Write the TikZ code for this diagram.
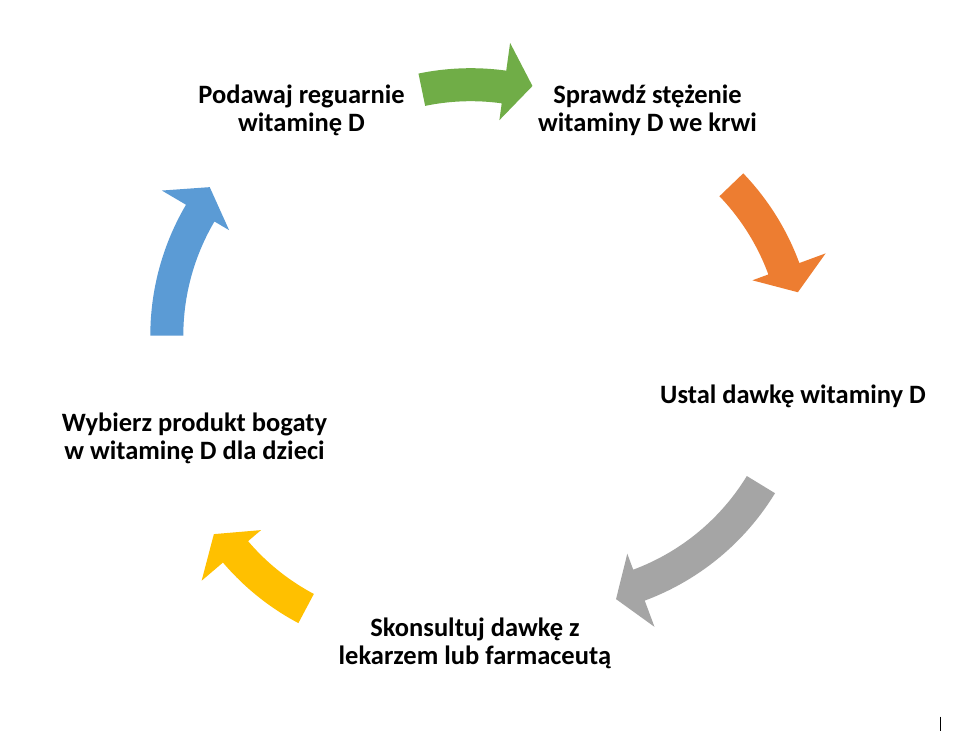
\documentclass[tikz,border=0pt]{standalone}
\usepackage{fontspec}
\setmainfont{Carlito}
\definecolor{cgreen}{HTML}{70AD47}
\definecolor{corange}{HTML}{ED7D31}
\definecolor{cgray}{HTML}{A5A5A5}
\definecolor{cyellow}{HTML}{FFC000}
\definecolor{cblue}{HTML}{5B9BD5}
% #1 colour, #2 cx, #3 cy, #4 tail angle, #5 head base angle, #6 tip angle
\newcommand\cycarrow[6]{%
  \fill[#1] plot[domain=#4:#5, samples=40] ({#2+258*cos(\x)},{#3-258*sin(\x)})
    -- ({#2+286*cos(#5)},{#3-286*sin(#5)})
    -- ({#2+248*cos(#6)},{#3-248*sin(#6)})
    -- ({#2+208*cos(#5)},{#3-208*sin(#5)})
    -- plot[domain=#5:#4, samples=40] ({#2+225*cos(\x)},{#3-225*sin(\x)})
    -- cycle;}
\tikzset{
  lbl/.style={align=center, inner sep=0pt, font=\bfseries\fontsize{26.5}{28}\selectfont}
}
\begin{document}
\begin{tikzpicture}[x=1pt, y=-1pt]
\useasboundingbox (0,0) rectangle (962,735);
\fill[white] (0,0) rectangle (962,735);
% arrows
\cycarrow{cgreen}{470.8}{326.2}{101.7}{82.1}{75.6}
\cycarrow{corange}{557.2}{352.1}{43.85}{20.19}{13.97}
\cycarrow{cgray}{554.8}{358.8}{-31.4}{-69.6}{-75.7}
\cycarrow{cyellow}{419.3}{395.2}{242.05}{220.44}{214.07}
\cycarrow{cblue}{408.3}{335.7}{180}{149.5}{143.2}
% labels
\node[lbl] (podawaj) at (301.5,110) {Podawaj reguarnie\\witaminę D};
\node[lbl] (sprawdz) at (647.5,110) {Sprawdź stężenie\\witaminy D we krwi};
\node[lbl, anchor=base] (ustal) at (793,403.3) {Ustal dawkę witaminy D};
\node[lbl] (skonsultuj) at (475,643.5) {Skonsultuj dawkę z\\lekarzem lub farmaceutą};
\node[lbl] (wybierz) at (194.5,438) {Wybierz produkt bogaty\\w witaminę D dla dzieci};
% cursor mark
\coordinate (m1) at (940,716.7);
\coordinate (m2) at (940,730.7);
\draw[line width=1pt] (m1) -- (m2);
\end{tikzpicture}
\end{document}
